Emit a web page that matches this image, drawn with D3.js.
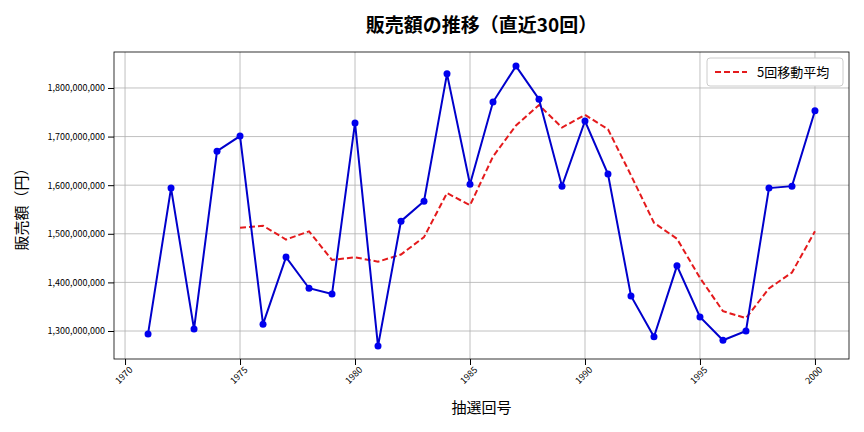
<!DOCTYPE html><html><head><meta charset="utf-8"><script src="https://cdn.jsdelivr.net/npm/d3@7"></script>
<style>body{margin:0;background:#fff}text{font-family:"Noto Sans CJK JP","Noto Sans",sans-serif}</style></head><body><svg id="c" width="864" height="432"></svg><script>
const years=d3.range(1971,2001);
const sales=[1294,1594,1304,1670,1701,1314,1452,1388,1376,1728,1269,1526,1567,1829,1602,1771,1845,1777,1598,1732,1623,1372,1288,1434,1329,1281,1300,1594,1598,1753].map(v=>v*1e6);
const maYears=d3.range(1975,2001);
const ma=[1512.6,1516.6,1488.2,1505,1446.2,1451.6,1442.6,1457.4,1493.2,1583.8,1558.6,1659,1722.8,1764.8,1718.6,1744.6,1715,1620.4,1522.6,1489.8,1409.2,1340.8,1326.4,1387.6,1420.4,1505.2].map(v=>v*1e6);
const xTicks=[1970,1975,1980,1985,1990,1995,2000];
const yTicks=[1.3e9,1.4e9,1.5e9,1.6e9,1.7e9,1.8e9];
const L=114,R=849,T=52,B=359;
const svg=d3.select("#c");
const x=d3.scaleLinear().domain([1969.52,2001.48]).range([L,R]);
const y=d3.scaleLinear().domain([1.2424e9,1.874e9]).range([B,T]);
const g=svg.append("g");
xTicks.forEach(t=>g.append("line").attr("x1",x(t)).attr("x2",x(t)).attr("y1",T).attr("y2",B).attr("stroke","#b0b0b0").attr("stroke-width",0.8));
yTicks.forEach(t=>g.append("line").attr("x1",L).attr("x2",R).attr("y1",y(t)).attr("y2",y(t)).attr("stroke","#b0b0b0").attr("stroke-width",0.8));
const xa=svg.append("g").attr("transform",`translate(0,${B})`).call(d3.axisBottom(x).tickValues(xTicks).tickFormat(d3.format("d")).tickSizeOuter(0));
xa.selectAll("text").attr("transform","rotate(-45)").attr("text-anchor","end").attr("dx","-0.3em").attr("dy","0.5em").style("font-size","9px");
const ya=svg.append("g").attr("transform",`translate(${L},0)`).call(d3.axisLeft(y).tickValues(yTicks).tickFormat(d3.format(",")).tickSizeOuter(0));
ya.selectAll("text").style("font-size","9px");
svg.selectAll(".domain").remove();
svg.append("rect").attr("x",L).attr("y",T).attr("width",R-L).attr("height",B-T).attr("fill","none").attr("stroke","#000").attr("stroke-width",0.8);
const line=d3.line().x(d=>x(d[0])).y(d=>y(d[1]));
svg.append("path").attr("d",line(maYears.map((t,i)=>[t,ma[i]]))).attr("fill","none").attr("stroke","#e41a1c").attr("stroke-width",2).attr("stroke-dasharray","6,3");
svg.append("path").attr("d",line(years.map((t,i)=>[t,sales[i]]))).attr("fill","none").attr("stroke","#0000cc").attr("stroke-width",2);
svg.selectAll("circle.p").data(years).enter().append("circle").attr("cx",d=>x(d)).attr("cy",(d,i)=>y(sales[i])).attr("r",3.5).attr("fill","#0000ee");
svg.append("text").attr("x",(L+R)/2).attr("y",32).attr("text-anchor","middle").style("font-size","19px").style("font-weight","bold").text("販売額の推移（直近30回）");
svg.append("text").attr("x",(L+R)/2).attr("y",413).attr("text-anchor","middle").style("font-size","15px").text("抽選回号");
svg.append("text").attr("transform",`translate(27,${(T+B)/2}) rotate(-90)`).attr("text-anchor","middle").style("font-size","15px").text("販売額（円）");
const lg=svg.append("g");
lg.append("rect").attr("x",707).attr("y",58).attr("width",136).attr("height",28).attr("fill","#fff").attr("stroke","#ccc").attr("rx",3);
lg.append("line").attr("x1",715).attr("x2",747).attr("y1",72).attr("y2",72).attr("stroke","#e41a1c").attr("stroke-width",2).attr("stroke-dasharray","6,3");
lg.append("text").attr("x",757).attr("y",77).style("font-size","13px").text("5回移動平均");
</script></body></html>
